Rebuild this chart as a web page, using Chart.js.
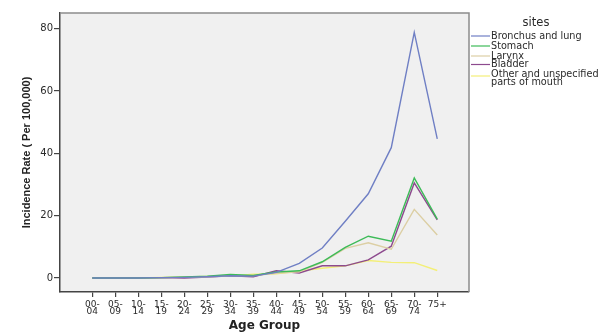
<!DOCTYPE html>
<html><head><meta charset="utf-8">
<script src="https://cdn.jsdelivr.net/npm/chart.js@4"></script>
<style>html,body{margin:0;padding:0;background:#fff}#w{width:605px;height:332px}</style>
</head><body><div id="w"><canvas id="c" width="605" height="332"></canvas></div>
<script>
const ageGroups = ['00-04','05-09','10-14','15-19','20-24','25-29','30-34','35-39','40-44','45-49','50-54','55-59','60-64','65-69','70-74','75+'];
const siteNames = ['Bronchus and lung','Stomach','Larynx','Bladder','Other and unspecified parts of mouth'];
const bronchusLung = [0,0,0,0.1,0.2,0.4,0.7,0.6,1.8,4.7,9.6,18.2,27.0,41.8,78.8,44.6];
const stomach      = [0,0,0,0.1,0.3,0.6,1.1,0.8,1.9,2.3,5.2,9.8,13.4,11.8,32.1,18.9];
const larynx       = [0,0,0,0.1,0.2,0.4,0.7,0.8,1.5,2.0,5.0,9.5,11.3,9.2,22.0,13.8];
const bladder      = [0,0,0,0.1,0,0.3,0.7,0.4,2.3,1.6,3.9,3.9,5.8,10.2,30.5,18.6];
const otherMouth   = [0,0,0,0.2,0.3,0.5,0.6,1.2,1.3,2.2,3.1,3.9,5.6,5.0,4.9,2.4];
const yTicks = [0,20,40,60,80];
const seriesColors = ['#6f7fc4','#3dbb58','#dccfa4','#8d4a8e','#f3ef78'];
const seriesValues = [bronchusLung, stomach, larynx, bladder, otherMouth];

const WIDE = 'DejaVu Sans, sans-serif';
const ARIAL = 'Liberation Sans, Arial, sans-serif';

const datasets = seriesValues.map((vals, k) => ({
  label: siteNames[k],
  data: vals.map((v, i) => ({x: i, y: v})),
  borderColor: seriesColors[k],
  backgroundColor: seriesColors[k],
  borderWidth: 1.4,
  pointRadius: 0,
  tension: 0,
  fill: false
}));

const frame = {
  id: 'frame',
  beforeDraw(chart) {
    const {ctx, chartArea: a} = chart;
    ctx.save();
    ctx.fillStyle = '#f0f0f0';
    ctx.fillRect(a.left, a.top, a.right - a.left, a.bottom - a.top);
    ctx.restore();
  },
  afterDraw(chart) {
    const {ctx, chartArea: a} = chart;
    ctx.save();
    ctx.strokeStyle = '#8c8c8c';
    ctx.lineWidth = 1.5;
    ctx.beginPath();
    ctx.moveTo(a.left, a.top); ctx.lineTo(a.right, a.top); ctx.lineTo(a.right, a.bottom);
    ctx.stroke();
    // legend
    const lx = a.right + 2, tx = 491;
    ctx.fillStyle = '#2a2a2a';
    ctx.font = '11.5px ' + WIDE;
    ctx.textAlign = 'center';
    ctx.textBaseline = 'middle';
    ctx.fillText('sites', 536, 23);
    ctx.textAlign = 'left';
    ctx.font = '9.7px ' + WIDE;
    const ys = [36, 46, 56, 64.5, 76];
    chart.data.datasets.forEach((ds, k) => {
      const y = ys[k];
      ctx.strokeStyle = ds.borderColor;
      ctx.lineWidth = 1.2;
      ctx.beginPath(); ctx.moveTo(lx, y); ctx.lineTo(tx - 1, y); ctx.stroke();
      ctx.fillStyle = '#2a2a2a';
      if (k === 4) {
        ctx.fillText('Other and unspecified', tx, y - 1.5);
        ctx.fillText('parts of mouth', tx, y + 6);
      } else {
        ctx.fillText(ds.label, tx, y);
      }
    });
    ctx.restore();
  }
};

new Chart(document.getElementById('c'), {
  type: 'line',
  data: {datasets},
  plugins: [frame],
  options: {
    responsive: false,
    animation: false,
    events: [],
    layout: {padding: {left: 0, right: 136, top: 13, bottom: 0}},
    plugins: {legend: {display: false}, tooltip: {enabled: false}},
    scales: {
      x: {
        type: 'linear',
        min: -1.404,
        max: 16.38,
        afterBuildTicks(scale) { scale.ticks = ageGroups.map((_, i) => ({value: i})); },
        afterFit(scale) { scale.height = 40; },
        border: {display: true, color: '#444', width: 1.5},
        grid: {drawOnChartArea: false, drawTicks: true, tickLength: 5, color: '#444', lineWidth: 1.2},
        ticks: {
          autoSkip: false, maxRotation: 0, minRotation: 0, padding: 4,
          color: '#2a2a2a',
          font: {family: WIDE, size: 9, lineHeight: 0.8},
          callback(v) {
            const s = ageGroups[v];
            if (s === undefined) return '';
            return s.includes('-') ? [s.split('-')[0] + '-', s.split('-')[1]] : s;
          }
        },
        title: {display: true, text: 'Age Group', color: '#222', padding: {top: 0, bottom: 0},
          font: {family: WIDE, size: 12, weight: 'bold', lineHeight: 1}}
      },
      y: {
        type: 'linear',
        min: -4.5,
        max: 85,
        afterBuildTicks(scale) { scale.ticks = yTicks.map(v => ({value: v})); },
        afterFit(scale) { scale.width = 60; },
        border: {display: true, color: '#444', width: 1.5},
        grid: {drawOnChartArea: false, drawTicks: true, tickLength: 6, color: '#444', lineWidth: 1.2},
        ticks: {padding: 1, color: '#2a2a2a', font: {family: WIDE, size: 10}},
        title: {display: true, text: 'Incidence Rate ( Per 100,000)', color: '#222', padding: {top: 20, bottom: 0},
          font: {family: ARIAL, size: 11, weight: 'bold', lineHeight: 1.2}}
      }
    }
  }
});
</script></body></html>
